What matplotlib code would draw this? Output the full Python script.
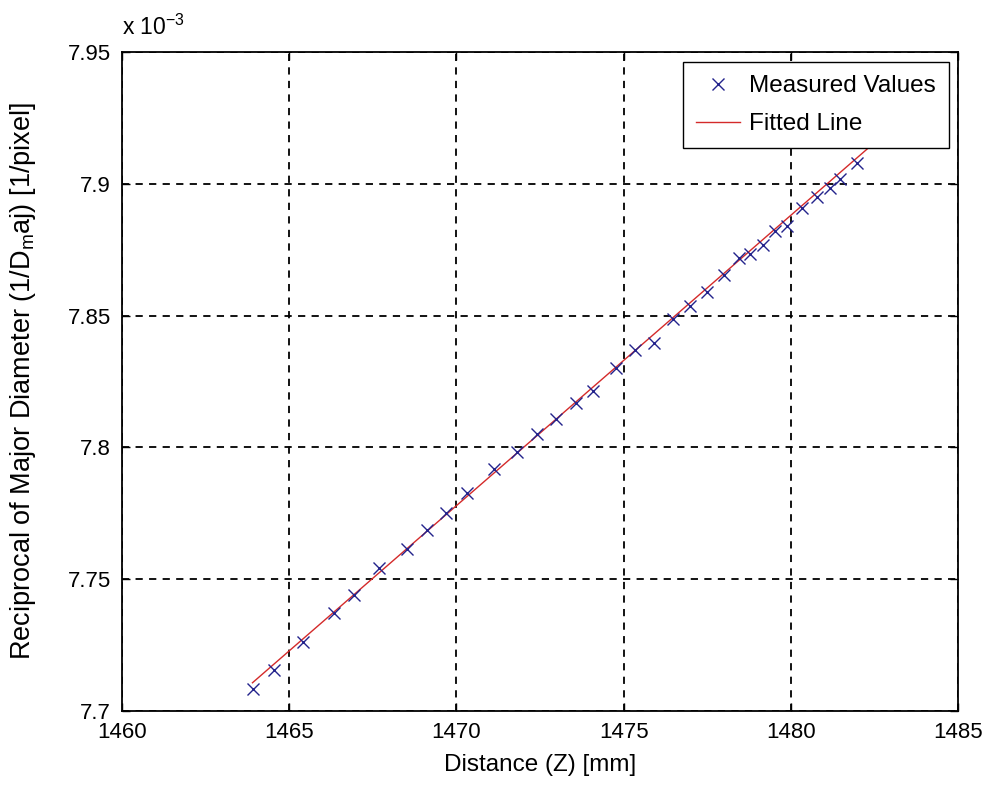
import matplotlib.pyplot as plt
import numpy as np

plt.rcParams['font.family'] = ['Liberation Sans', 'DejaVu Sans']
plt.rcParams['mathtext.fontset'] = 'custom'
plt.rcParams['mathtext.rm'] = 'Liberation Sans'

# distance Z [mm] and reciprocal of major diameter (in units of 1e-3 1/pixel)
distance = [1463.93, 1464.55, 1465.40, 1466.34, 1466.94, 1467.67, 1468.53, 1469.11,
            1469.69, 1470.31, 1471.13, 1471.80, 1472.42, 1472.98, 1473.57, 1474.08,
            1474.77, 1475.34, 1475.91, 1476.47, 1476.99, 1477.48, 1478.00, 1478.46,
            1478.78, 1479.16, 1479.53, 1479.88, 1480.32, 1480.77, 1481.17, 1481.47,
            1481.97]
recip_diam = [7.7083, 7.7156, 7.7261, 7.7373, 7.7440, 7.7541, 7.7615, 7.7687,
              7.7750, 7.7826, 7.7917, 7.7984, 7.8051, 7.8107, 7.8170, 7.8213,
              7.8300, 7.8370, 7.8395, 7.8486, 7.8536, 7.8591, 7.8654, 7.8717,
              7.8734, 7.8768, 7.8822, 7.8840, 7.8907, 7.8951, 7.8983, 7.9017,
              7.9080]

# fitted line end points
fit_z = [1463.9, 1483.5]
fit_y = [7.7107, 7.9266]

x_ticks = [1460, 1465, 1470, 1475, 1480, 1485]
y_ticks = [7.7, 7.75, 7.8, 7.85, 7.9, 7.95]
y_tick_labels = ['7.7', '7.75', '7.8', '7.85', '7.9', '7.95']

fig = plt.figure(figsize=(9.89, 7.85), dpi=100)
ax = fig.add_axes([0.1234, 0.0943, 0.8453, 0.8395])

ax.plot(distance, recip_diam, 'x', color='#23238c', markersize=8, mew=1.0,
        label='Measured Values', zorder=3)
ax.plot(fit_z, fit_y, '-', color='#d42a2a', lw=1.0, label='Fitted Line', zorder=2)

ax.set_xlim(1460, 1485)
ax.set_ylim(7.7, 7.95)
ax.set_xticks(x_ticks)
ax.set_yticks(y_ticks)
ax.set_yticklabels(y_tick_labels)
ax.tick_params(direction='in', length=6, width=1, top=True, right=True,
               labelsize=16, pad=8)
for s in ax.spines.values():
    s.set_linewidth(1.3)

ax.grid(True, color='black', linestyle=(0, (4, 3.5)), linewidth=1.3)
ax.set_axisbelow(True)

ax.set_xlabel('Distance (Z) [mm]', fontsize=17.5)
ax.xaxis.set_label_coords(0.5, -0.066)
ax.set_ylabel(r'Reciprocal of Major Diameter (1/D$_\mathregular{m}$aj) [1/pixel]',
              fontsize=19.5)
ax.yaxis.set_label_coords(-0.1, 0.5)

fig.text(0.1234, 0.949, r'x 10$^{-3}$', fontsize=16.5, ha='left', va='bottom')

leg = ax.legend(loc='upper left', bbox_to_anchor=(0.671, 0.985), borderaxespad=0,
                fontsize=17.5, fancybox=False, framealpha=1, edgecolor='black',
                handlelength=1.8, handletextpad=0.35, borderpad=0.55, labelspacing=0.65)
leg.get_frame().set_linewidth(1.0)

fig.savefig('out.png', dpi=100)
